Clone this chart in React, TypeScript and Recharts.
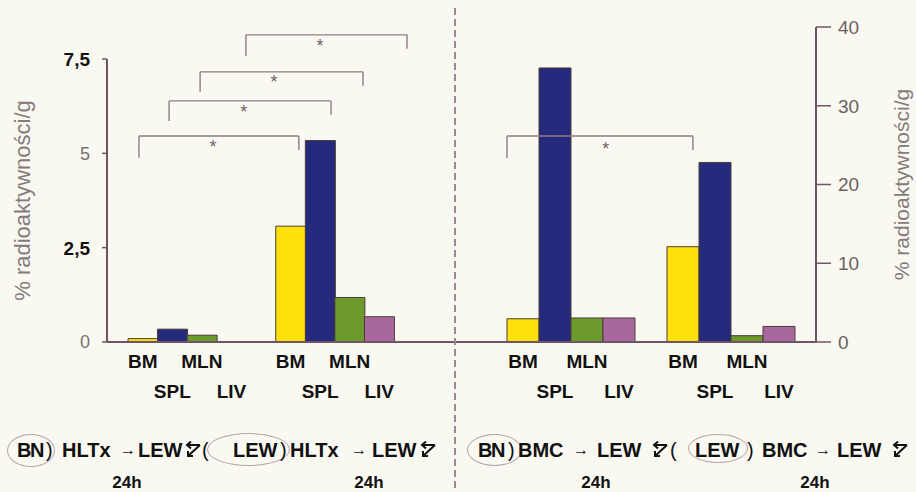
import { Bar, BarChart, Cell, ReferenceDot, ReferenceLine, XAxis, YAxis } from 'recharts';

/** Narządy w kolejności słupków w każdej grupie. */
const ORGANS = ['BM', 'SPL', 'MLN', 'LIV'];

/** % radioaktywności/g — lewy panel (HLTx, oś 0–7,5). */
const HLTX_BN = [0.09, 0.34, 0.18, 0];
const HLTX_LEW = [3.07, 5.34, 1.18, 0.67];

/** % radioaktywności/g — prawy panel (BMC, oś 0–40). */
const BMC_BN = [2.95, 34.8, 3.05, 3.05];
const BMC_LEW = [12.1, 22.8, 0.8, 1.98];

const LEFT_TICKS = [0, 2.5, 5, 7.5];
const RIGHT_TICKS = [0, 10, 20, 30, 40];

/** Klamry istotności: x w jednostkach pozycji słupka (oś „ann”), y w jednostkach osi Y. */
const LEFT_BRACKETS = [
  { from: 0.37, to: 5.78, top: 5.46, legFrom: 4.88, legTo: 5.09, starX: 2.88, starY: 5.27 },
  { from: 1.39, to: 6.87, top: 6.39, legFrom: 5.86, legTo: 6.02, starX: 3.92, starY: 6.2 },
  { from: 2.44, to: 7.95, top: 7.16, legFrom: 6.63, legTo: 6.79, starX: 4.94, starY: 7.0 },
  { from: 3.99, to: 9.44, top: 8.14, legFrom: 7.58, legTo: 7.77, starX: 6.5, starY: 7.95 },
];
const RIGHT_BRACKETS = [
  { from: 0.0, to: 5.81, top: 26.16, legFrom: 23.37, legTo: 24.38, starX: 3.09, starY: 25.0 },
];

const ORGAN_COLORS: Record<string, string> = {
  BM: '#ffe10a',
  SPL: '#252a7c',
  MLN: '#6c9a2c',
  LIV: '#a8689e',
};

const AXIS = '#6d5564';
const BRACKET = '#8f7a86';
const FONT = '"Liberation Sans", Arial, sans-serif';

type Row = { key: string; organ: string; value: number | null; pos: number };
type Bracket = (typeof LEFT_BRACKETS)[number];

/** Jeden słupek = jedna kategoria; między grupami pusta kategoria-odstęp. */
function buildRows(groups: [string, number[]][]): Row[] {
  const rows: Row[] = [];
  groups.forEach(([g, values], gi) => {
    if (gi > 0) rows.push({ key: `gap${gi}`, organ: '', value: null, pos: rows.length + 0.5 });
    values.forEach((v, i) =>
      rows.push({ key: `${g}-${ORGANS[i]}`, organ: ORGANS[i], value: v, pos: rows.length + 0.5 }),
    );
  });
  return rows;
}

const leftRows = buildRows([
  ['BN', HLTX_BN],
  ['LEW', HLTX_LEW],
]);
const rightRows = buildRows([
  ['BN', BMC_BN],
  ['LEW', BMC_LEW],
]);

function OrganTick({ x, y, payload }: any) {
  const organ = String(payload.value).split('-')[1];
  if (!organ) return <g />;
  const row = ORGANS.indexOf(organ) % 2;
  return (
    <text x={x} y={y + (row ? 56 : 26)} textAnchor="middle" fontSize={19} fontWeight={700} fill="#111">
      {organ}
    </text>
  );
}

function LeftTick({ x, y, payload }: any) {
  const v = payload.value as number;
  const strong = v === 2.5 || v === 7.5;
  return (
    <text
      x={x}
      y={y}
      dy="0.36em"
      textAnchor="end"
      fontSize={strong ? 19 : 18}
      fontWeight={strong ? 700 : 400}
      fill={strong ? '#111' : '#7a6f72'}
    >
      {String(v).replace('.', ',')}
    </text>
  );
}

function RightTick({ x, y, payload }: any) {
  return (
    <text x={x} y={y} dy="0.36em" textAnchor="start" fontSize={19} fill="#6a6163">
      {payload.value}
    </text>
  );
}

function Star({ cx, cy }: any) {
  return (
    <text x={cx} y={cy + 10} textAnchor="middle" fontSize={18} fill="#6d6266">
      *
    </text>
  );
}

function bracketLines(list: Bracket[], prefix: string) {
  return list.flatMap((b, i) => [
    <ReferenceLine
      key={`${prefix}${i}l`}
      xAxisId="ann"
      ifOverflow="visible"
      stroke={BRACKET}
      strokeWidth={1.4}
      segment={[
        { x: b.from, y: b.legFrom },
        { x: b.from, y: b.top },
      ]}
    />,
    <ReferenceLine
      key={`${prefix}${i}t`}
      xAxisId="ann"
      ifOverflow="visible"
      stroke={BRACKET}
      strokeWidth={1.4}
      segment={[
        { x: b.from, y: b.top },
        { x: b.to, y: b.top },
      ]}
    />,
    <ReferenceLine
      key={`${prefix}${i}r`}
      xAxisId="ann"
      ifOverflow="visible"
      stroke={BRACKET}
      strokeWidth={1.4}
      segment={[
        { x: b.to, y: b.top },
        { x: b.to, y: b.legTo },
      ]}
    />,
    <ReferenceDot
      key={`${prefix}${i}s`}
      xAxisId="ann"
      x={b.starX}
      y={b.starY}
      r={0}
      ifOverflow="visible"
      shape={Star}
    />,
  ]);
}

function Zz({ x }: { x: number }) {
  return (
    <svg
      width={19}
      height={18}
      viewBox="0 0 19 18"
      style={{ position: 'absolute', left: x, top: 441 }}
      fill="none"
      stroke="#111"
      strokeWidth={2}
    >
      <path d="M17 4 L4 4 M8 0.5 L4 4 L8 7.5 M17 4 L5 15 M5 10 L5 15 L10 15" />
    </svg>
  );
}

function T({
  x,
  children,
  thin,
  size = 20,
  tight,
}: {
  x: number;
  children: string;
  thin?: boolean;
  size?: number;
  tight?: boolean;
}) {
  return (
    <span
      style={{
        position: 'absolute',
        left: x,
        top: 440 + (20 - size) / 2,
        fontSize: size,
        lineHeight: `${size}px`,
        fontWeight: thin ? 400 : 700,
        letterSpacing: tight ? -1.5 : 0,
        whiteSpace: 'nowrap',
      }}
    >
      {children}
    </span>
  );
}

function Oval({ x, y, w, h }: { x: number; y: number; w: number; h: number }) {
  return (
    <div
      style={{
        position: 'absolute',
        left: x,
        top: y,
        width: w,
        height: h,
        border: '1.5px solid #b4a3aa',
        borderRadius: '50%',
        boxSizing: 'border-box',
      }}
    />
  );
}

function H24({ x }: { x: number }) {
  return (
    <span
      style={{
        position: 'absolute',
        left: x,
        top: 476,
        transform: 'translateX(-50%)',
        fontSize: 17,
        lineHeight: '14px',
        fontWeight: 700,
      }}
    >
      24h
    </span>
  );
}

export default function App() {
  return (
    <div
      style={{
        position: 'absolute',
        left: 0,
        top: 0,
        width: 916,
        height: 492,
        overflow: 'hidden',
        background: '#faf9f1',
        fontFamily: FONT,
        color: '#111',
      }}
    >
      <div style={{ position: 'absolute', left: 0, top: 0 }}>
        <BarChart
          width={456}
          height={410}
          data={leftRows}
          margin={{ top: 59, right: 0, bottom: 0, left: 0 }}
          barCategoryGap={0}
          barGap={0}
        >
          <XAxis
            dataKey="key"
            interval={0}
            padding={{ left: 21, right: 62 }}
            height={68}
            tickSize={0}
            tickMargin={0}
            tickLine={false}
            axisLine={{ stroke: AXIS, strokeWidth: 2 }}
            tick={<OrganTick />}
          />
          <XAxis
            xAxisId="ann"
            dataKey="pos"
            type="number"
            domain={[0, 9]}
            allowDataOverflow
            padding={{ left: 21, right: 62 }}
            hide
          />
          <YAxis
            width={107}
            domain={[0, 7.5]}
            ticks={LEFT_TICKS}
            tickSize={5}
            tickMargin={12}
            axisLine={{ stroke: AXIS, strokeWidth: 2 }}
            tickLine={{ stroke: AXIS, strokeWidth: 1.5 }}
            tick={<LeftTick />}
            label={{
              value: '% radioaktywności/g',
              angle: -90,
              position: 'insideLeft',
              offset: 22,
              style: { textAnchor: 'middle', fontSize: 22, fill: '#857a7c' },
            }}
          />
          {bracketLines(LEFT_BRACKETS, 'L')}
          <Bar dataKey="value" stroke="#4a3d3a" strokeWidth={1} isAnimationActive={false}>
            {leftRows.map((r) => (
              <Cell key={r.key} fill={ORGAN_COLORS[r.organ] ?? 'none'} />
            ))}
          </Bar>
        </BarChart>
      </div>

      <div style={{ position: 'absolute', left: 456, top: 0 }}>
        <BarChart
          width={460}
          height={410}
          data={rightRows}
          margin={{ top: 27, right: 0, bottom: 0, left: 0 }}
          barCategoryGap={0}
          barGap={0}
        >
          <XAxis
            dataKey="key"
            interval={0}
            padding={{ left: 51, right: 21 }}
            height={68}
            tickSize={0}
            tickMargin={0}
            tickLine={false}
            axisLine={{ stroke: AXIS, strokeWidth: 2 }}
            tick={<OrganTick />}
          />
          <XAxis
            xAxisId="ann"
            dataKey="pos"
            type="number"
            domain={[0, 9]}
            allowDataOverflow
            padding={{ left: 51, right: 21 }}
            hide
          />
          <YAxis
            orientation="right"
            width={100}
            domain={[0, 40]}
            ticks={RIGHT_TICKS}
            tickSize={15}
            tickMargin={7}
            axisLine={{ stroke: AXIS, strokeWidth: 2 }}
            tickLine={{ stroke: AXIS, strokeWidth: 1.5 }}
            tick={<RightTick />}
            label={{
              value: '% radioaktywności/g',
              angle: -90,
              position: 'insideRight',
              offset: 14,
              style: { textAnchor: 'middle', fontSize: 21, fill: '#857a7c' },
            }}
          />
          {bracketLines(RIGHT_BRACKETS, 'R')}
          <Bar dataKey="value" stroke="#4a3d3a" strokeWidth={1} isAnimationActive={false}>
            {rightRows.map((r) => (
              <Cell key={r.key} fill={ORGAN_COLORS[r.organ] ?? 'none'} />
            ))}
          </Bar>
        </BarChart>
      </div>

      {/* przerywana linia podziału paneli */}
      <div
        style={{
          position: 'absolute',
          left: 454,
          top: 8,
          width: 1.5,
          height: 484,
          background: 'repeating-linear-gradient(to bottom, #9c8890 0 7px, transparent 7px 11px)',
        }}
      />

      {/* podpisy grup */}
      <Oval x={7} y={434} w={48} h={33} />
      <T x={17} tight>BN</T>
      <T x={46} thin>)</T>
      <T x={62}>HLTx</T>
      <T x={120} thin size={16}>→</T>
      <T x={138}>LEW</T>
      <Zz x={183} />
      <T x={202} thin>(</T>
      <Oval x={207} y={433} w={83} h={33} />
      <T x={233}>LEW</T>
      <T x={280} thin>)</T>
      <T x={290}>HLTx</T>
      <T x={351} thin size={16}>→</T>
      <T x={372}>LEW</T>
      <Zz x={418} />

      <Oval x={467} y={434} w={55} h={32} />
      <T x={478} tight>BN</T>
      <T x={508} thin>)</T>
      <T x={518}>BMC</T>
      <T x={573} thin size={16}>→</T>
      <T x={597}>LEW</T>
      <Zz x={650} />
      <T x={670} thin>(</T>
      <Oval x={688} y={434} w={60} h={29} />
      <T x={695}>LEW</T>
      <T x={747} thin>)</T>
      <T x={762}>BMC</T>
      <T x={815} thin size={16}>→</T>
      <T x={837}>LEW</T>
      <Zz x={890} />

      <H24 x={127} />
      <H24 x={369} />
      <H24 x={596} />
      <H24 x={815} />
    </div>
  );
}
